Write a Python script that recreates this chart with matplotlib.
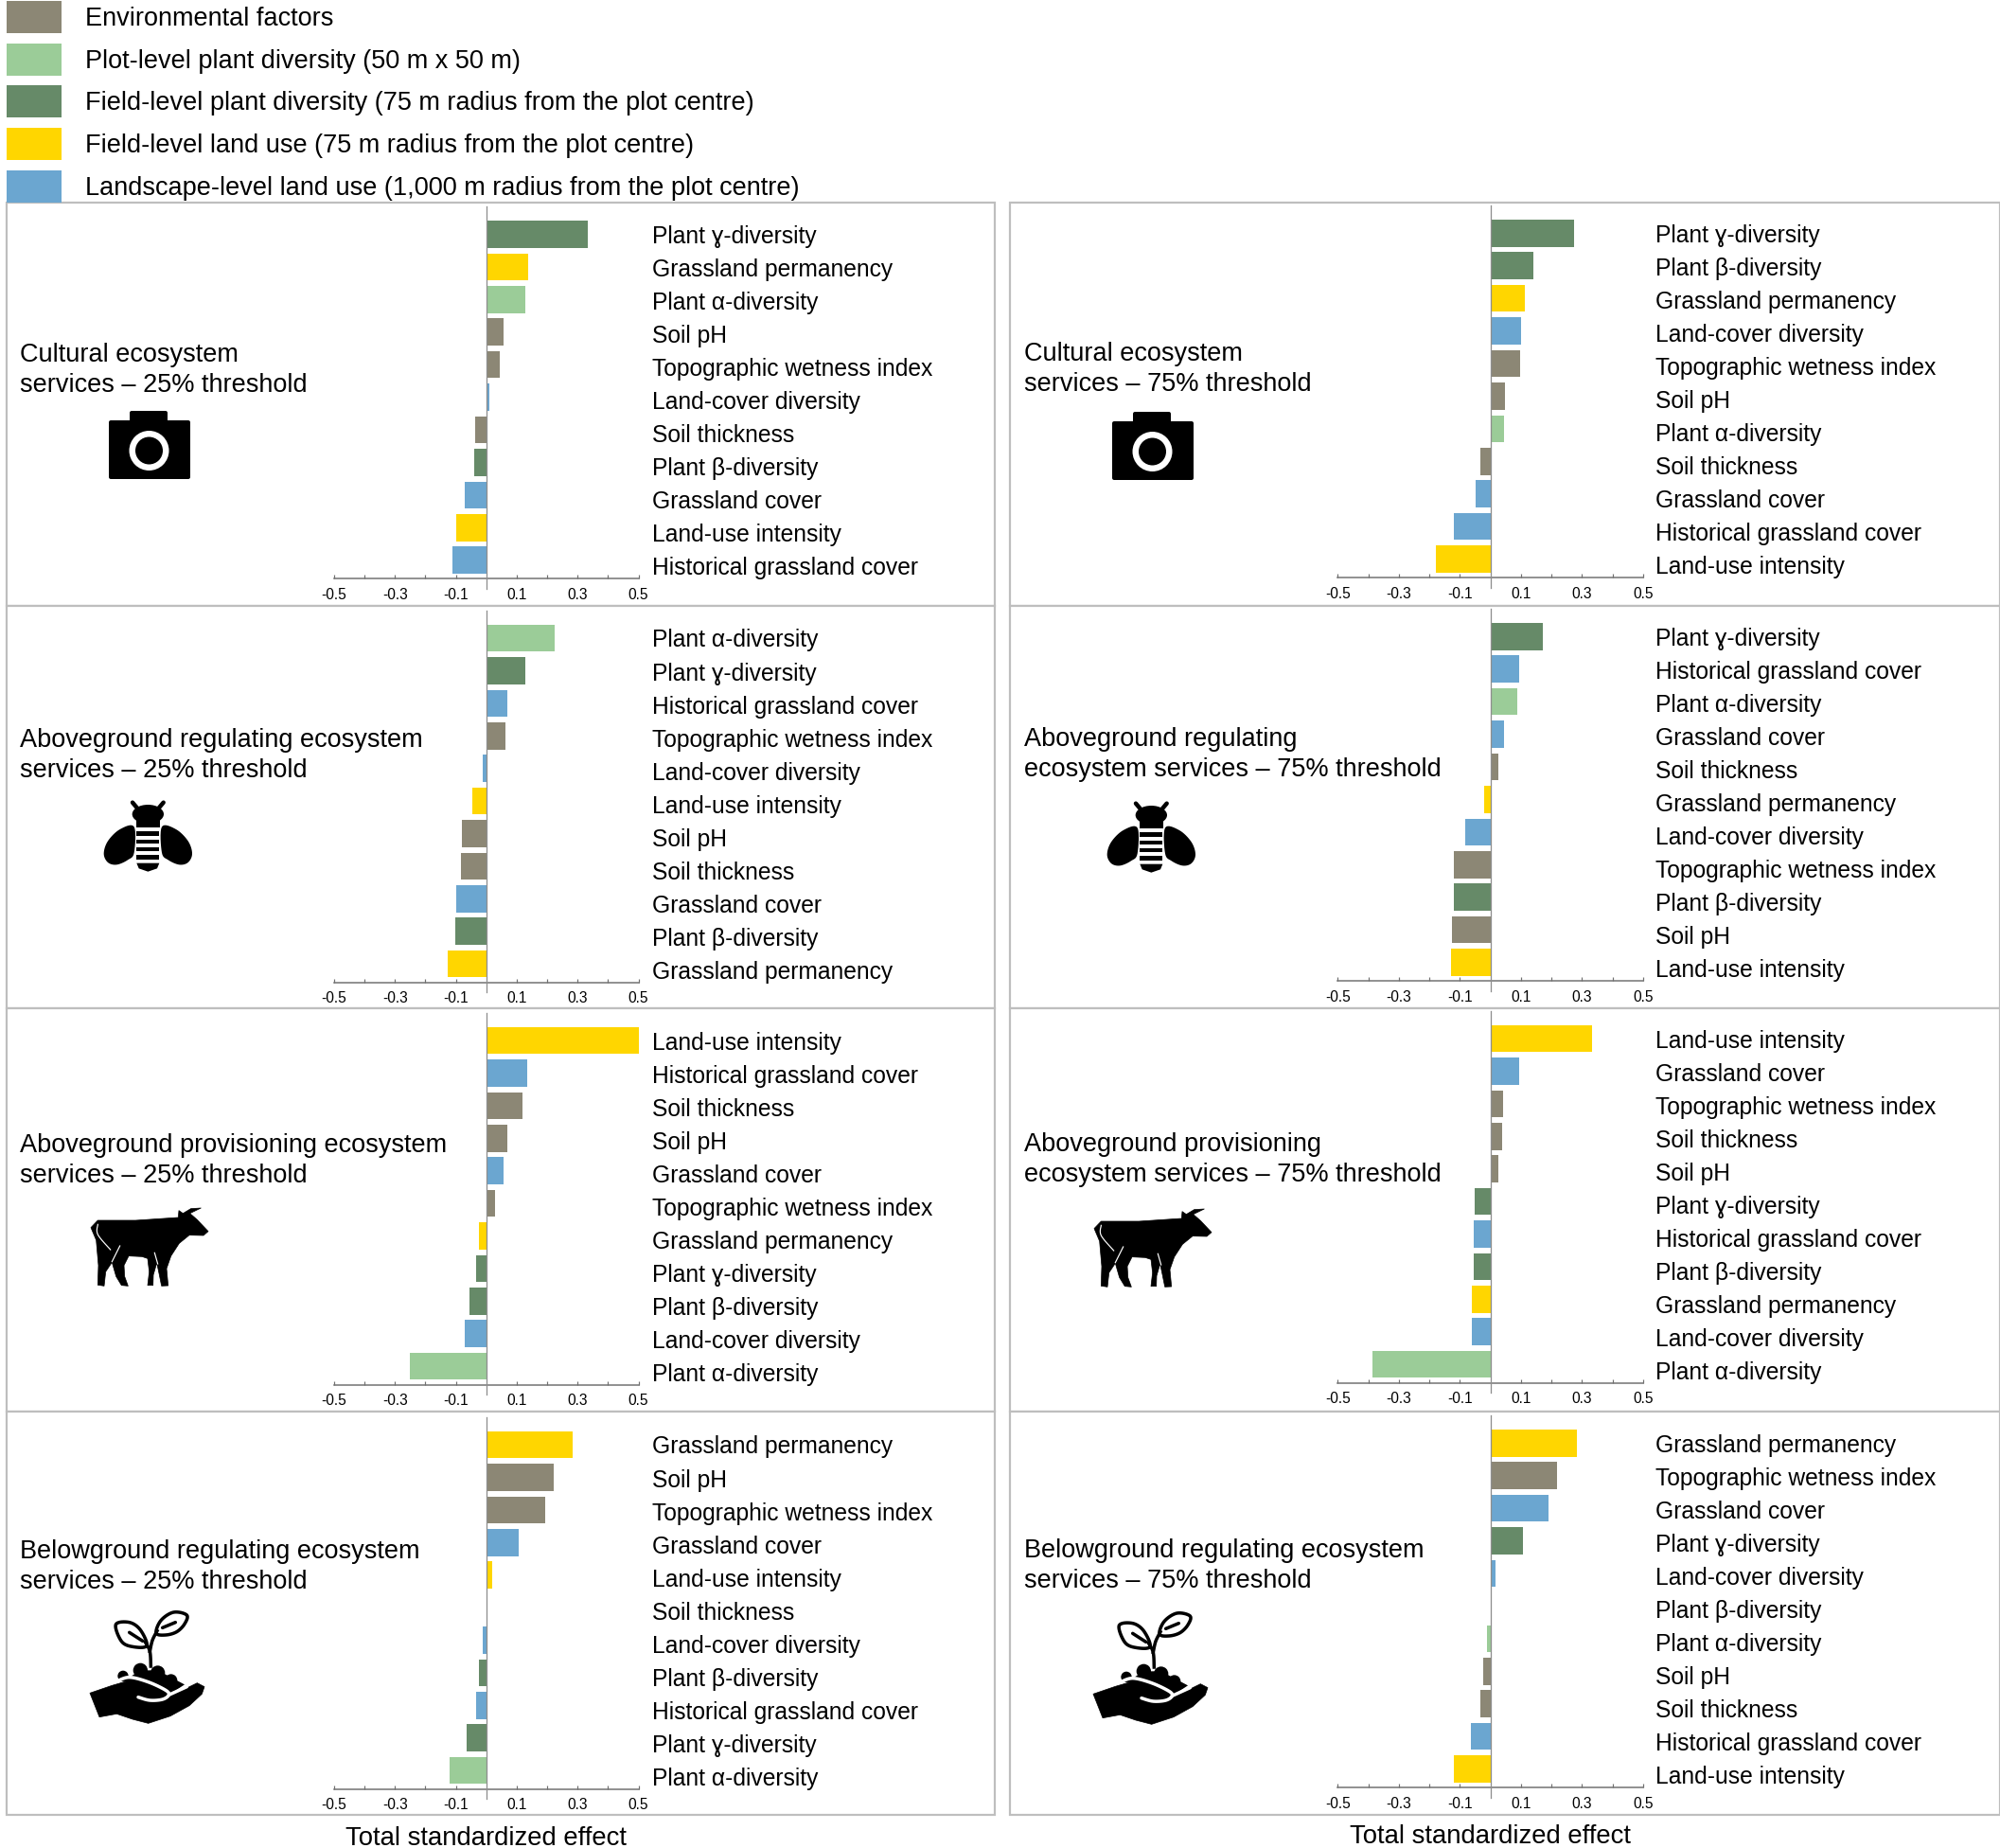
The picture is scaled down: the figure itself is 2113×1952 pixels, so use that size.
"""
Total standardized effects on ecosystem services, 25% and 75% thresholds.
Produces out.png
"""
import matplotlib
matplotlib.use("Agg")
import matplotlib.pyplot as plt
import numpy as np
from matplotlib.patches import Circle, Ellipse, Patch, Polygon, Rectangle

plt.rcParams["font.family"] = ["Liberation Sans", "DejaVu Sans"]

W, H = 2113, 1952

# ── Data ───────────────────────────────────────────────────────────────────────

GAMMA = "Plant ɣ-diversity"
BETA = "Plant β-diversity"
ALPHA = "Plant α-diversity"
PERM = "Grassland permanency"
LUI = "Land-use intensity"
GC = "Grassland cover"
HGC = "Historical grassland cover"
LCD = "Land-cover diversity"
PH = "Soil pH"
THICK = "Soil thickness"
TWI = "Topographic wetness index"

legend_labels = [
    "Environmental factors",
    "Plot-level plant diversity (50 m x 50 m)",
    "Field-level plant diversity (75 m radius from the plot centre)",
    "Field-level land use (75 m radius from the plot centre)",
    "Landscape-level land use (1,000 m radius from the plot centre)",
]
legend_colors = ["#8C8775", "#9BCC98", "#668A68", "#FFD600", "#6BA6D0"]

group_env = [PH, THICK, TWI]
group_plot = [ALPHA]
group_field_div = [GAMMA, BETA]
group_field_use = [PERM, LUI]
group_landscape = [GC, HGC, LCD]

cultural_25_labels = [GAMMA, PERM, ALPHA, PH, TWI, LCD, THICK, BETA, GC, LUI, HGC]
cultural_25_values = [0.333, 0.139, 0.127, 0.057, 0.044, 0.01, -0.036, -0.04, -0.072, -0.099, -0.112]

above_reg_25_labels = [ALPHA, GAMMA, HGC, TWI, LCD, LUI, PH, THICK, GC, BETA, PERM]
above_reg_25_values = [0.226, 0.129, 0.068, 0.063, -0.012, -0.046, -0.08, -0.084, -0.099, -0.101, -0.127]

above_prov_25_labels = [LUI, HGC, THICK, PH, GC, TWI, PERM, GAMMA, BETA, LCD, ALPHA]
above_prov_25_values = [0.5, 0.133, 0.118, 0.07, 0.057, 0.03, -0.025, -0.033, -0.056, -0.071, -0.252]

below_reg_25_labels = [PERM, PH, TWI, GC, LUI, THICK, LCD, BETA, HGC, GAMMA, ALPHA]
below_reg_25_values = [0.283, 0.222, 0.194, 0.108, 0.019, 0.003, -0.013, -0.023, -0.032, -0.063, -0.12]

cultural_75_labels = [GAMMA, BETA, PERM, LCD, TWI, PH, ALPHA, THICK, GC, HGC, LUI]
cultural_75_values = [0.274, 0.14, 0.114, 0.101, 0.098, 0.049, 0.043, -0.033, -0.05, -0.119, -0.179]

above_reg_75_labels = [GAMMA, HGC, ALPHA, GC, THICK, PERM, LCD, TWI, BETA, PH, LUI]
above_reg_75_values = [0.172, 0.095, 0.089, 0.045, 0.027, -0.021, -0.084, -0.119, -0.12, -0.126, -0.128]

above_prov_75_labels = [LUI, GC, TWI, THICK, PH, GAMMA, HGC, BETA, PERM, LCD, ALPHA]
above_prov_75_values = [0.333, 0.094, 0.04, 0.038, 0.025, -0.052, -0.054, -0.056, -0.06, -0.062, -0.385]

below_reg_75_labels = [PERM, TWI, GC, GAMMA, LCD, BETA, ALPHA, PH, THICK, HGC, LUI]
below_reg_75_values = [0.282, 0.219, 0.19, 0.106, 0.018, 0.003, -0.011, -0.024, -0.033, -0.064, -0.12]

major_ticks = [-0.5, -0.3, -0.1, 0.1, 0.3, 0.5]
major_tick_labels = ["-0.5", "-0.3", "-0.1", "0.1", "0.3", "0.5"]
minor_ticks = [-0.4, -0.2, 0.2, 0.4]

xlabel_text = "Total standardized effect"

# ── Layout (pixels of the full picture) ────────────────────────────────────────

PANEL_EDGES = [214, 640, 1065, 1491, 1917]
LEFT_X = (353, 674.5, 7, 1051)      # -0.5, 0.5, panel left, panel right
RIGHT_X = (1413.3, 1736, 1067, 2113)
LEFT_FIRST = [247.5, 674, 1099, 1526]
RIGHT_FIRST = [246.3, 672.3, 1097, 1524.3]
BAR_PITCH = 34.42
LABEL_PITCH = 35.04     # the names run slightly wider than the bars in the original
BAR_HEIGHT = 0.83

GREY_PANEL = "#BEBEBE"
GREY_AXIS = "#707070"
GREY_ZERO = "#8E8E8E"


def colour_of(label):
    groups = [group_env, group_plot, group_field_div, group_field_use, group_landscape]
    for group, colour in zip(groups, legend_colors):
        if label in group:
            return colour
    return "black"


def pt(px):
    return px * 72 / 100


def smooth(points, closed=True, n=8):
    """Catmull-Rom through the points, only used for the icon outlines."""
    p = np.asarray(points, dtype=float)
    if closed:
        p = np.vstack([p[-1], p, p[0], p[1]])
    else:
        p = np.vstack([p[0], p, p[-1]])
    out = []
    for i in range(1, len(p) - 2):
        for t in np.linspace(0, 1, n, endpoint=False):
            out.append(0.5 * (2 * p[i] + (p[i + 1] - p[i - 1]) * t
                              + (2 * p[i - 1] - 5 * p[i] + 4 * p[i + 1] - p[i + 2]) * t ** 2
                              + (3 * p[i] - p[i - 1] - 3 * p[i + 1] + p[i + 2]) * t ** 3))
    if not closed:
        out.append(p[-2])
    return np.array(out)


# ── Icons, outlines traced in 3x zoom coordinates ──────────────────────────────

def draw_camera(ov, dx, dy):
    ov.add_patch(Rectangle((117 + dx, 446 + dy), 81.5, 57.5, fc="black", ec="black", lw=pt(4), joinstyle="round"))
    ov.add_patch(Rectangle((139 + dx, 436 + dy), 36, 12, fc="black", ec="black", lw=pt(4), joinstyle="round"))
    ov.add_patch(Circle((157.5 + dx, 476 + dy), 21, fc="white", ec="none"))
    ov.add_patch(Circle((157.5 + dx, 476 + dy), 14.5, fc="black", ec="none"))


def draw_bee(ov, dx, dy):
    ox, oy = 90 + dx, 830 + dy
    z = lambda pts: np.array(pts, dtype=float) / 3 + [ox, oy]
    for sign in (-1, 1):
        wing = [(155, 130), (110, 138), (72, 175), (59, 215), (72, 243), (100, 250), (135, 235), (155, 212)]
        wing = [(199 + sign * (199 - x), y) for x, y in wing]
        ov.add_patch(Polygon(z(smooth(wing)), fc="black", ec="none"))
        ov.plot(*z([(199 + sign * 33, 72), (199 + sign * 49, 53)]).T, color="black", lw=pt(4.5),
                solid_capstyle="round")
    ov.add_patch(Polygon(z([(162, 100), (236, 100), (236, 131), (162, 131)]), fc="black", ec="none"))
    ov.add_patch(Ellipse(((199 / 3 + ox), (90 / 3 + oy)), 100 / 3, 60 / 3, fc="black", ec="none"))
    for top in (145, 170, 195, 220):
        ov.add_patch(Polygon(z([(163, top), (235, top), (235, top + 13), (163, top + 13)]), fc="black", ec="none"))
    tail = [(163, 245), (199, 245), (235, 245), (228, 262), (199, 272), (170, 262)]
    ov.add_patch(Polygon(z(tail), fc="black", ec="none"))


def draw_cow(ov, dx, dy):
    ox, oy = 60 + dx, 1230 + dy
    z = lambda pts: np.array(pts, dtype=float) / 3 + [ox, oy]
    body = [(130, 177), (250, 177), (385, 168), (387, 146), (400, 155), (425, 140), (457, 138),
            (422, 155), (445, 175), (480, 212), (465, 225), (420, 224), (388, 250), (362, 290),
            (348, 330), (353, 384), (332, 385), (324, 345), (317, 312), (306, 350), (305, 383),
            (288, 383), (293, 340), (288, 298), (270, 292), (228, 290),
            (213, 320), (215, 355), (226, 385), (205, 383), (188, 355), (175, 310), (155, 340),
            (150, 385), (130, 382), (132, 320), (125, 240), (108, 200)]
    ov.add_patch(Polygon(z(body), fc="black", ec="black", lw=0.5, joinstyle="round"))
    for line in ([(130, 190), (130, 222), (170, 270)], [(200, 258), (175, 308)], [(310, 280), (320, 315)]):
        ov.plot(*z(smooth(line, closed=False)).T, color="white", lw=pt(1.2))


def draw_hand(ov, dx, dy):
    ox, oy = 60 + dx, 1680 + dy
    z = lambda pts: np.array(pts, dtype=float) / 3 + [ox, oy]
    for cx, cy, r in [(265, 250, 23), (320, 258, 23), (362, 282, 20), (210, 268, 17)]:
        ov.add_patch(Circle((cx / 3 + ox, cy / 3 + oy), r / 3, fc="black", ec="none"))
    ov.add_patch(Polygon(z([(210, 285), (265, 250), (320, 250), (405, 295), (360, 325), (300, 300)]), fc="black", ec="none"))
    hand = [(105, 322), (175, 298), (230, 282), (290, 290), (345, 318), (400, 312), (445, 290),
            (468, 302), (460, 325), (420, 362), (360, 395), (290, 418), (240, 405), (190, 388),
            (135, 398), (120, 360)]
    ov.add_patch(Polygon(z(hand), fc="black", ec="black", lw=0.5, joinstyle="round"))
    ov.plot(*z(smooth([(190, 285), (230, 272), (290, 287), (345, 313), (355, 328), (335, 342), (295, 345), (258, 335)],
                      closed=False)).T, color="white", lw=pt(3.5), solid_capstyle="round")
    ov.plot(*z([(355, 328), (412, 302)]).T, color="white", lw=pt(3.5), solid_capstyle="round")
    ov.plot(*z(smooth([(298, 237), (295, 190), (280, 160)], closed=False)).T, color="black", lw=pt(3.5))
    ov.plot(*z(smooth([(295, 190), (303, 155), (318, 125)], closed=False)).T, color="black", lw=pt(3.5))
    leaf_l = [(187, 105), (230, 98), (265, 122), (285, 172), (240, 175), (205, 158)]
    leaf_r = [(315, 132), (330, 92), (370, 66), (412, 75), (405, 103), (380, 128), (345, 138)]
    for leaf in (leaf_l, leaf_r):
        ov.add_patch(Polygon(z(smooth(leaf)), fc="white", ec="black", lw=pt(3.5)))
    ov.plot(*z([(230, 130), (272, 157)]).T, color="black", lw=pt(3.5), solid_capstyle="round")
    ov.plot(*z([(335, 115), (376, 98)]).T, color="black", lw=pt(3.5), solid_capstyle="round")


# ── Panels ─────────────────────────────────────────────────────────────────────

def panel(fig, ov, col_x, row, first, labels, values, title, title_y, title_x, label_pad, xlabel=False):
    x0, x1, px0, px1 = col_x
    ov.add_patch(Rectangle((px0, PANEL_EDGES[row]), px1 - px0, PANEL_EDGES[row + 1] - PANEL_EDGES[row],
                           fc="white", ec=GREY_PANEL, lw=pt(2.2), zorder=1))
    ov.text(title_x, title_y, title, fontsize=19.5, ha="left", va="center", linespacing=1.33, zorder=3)

    axis_y = first + 10 * BAR_PITCH + 19.5
    top_y = first - 29.5
    ax = fig.add_axes([x0 / W, 1 - axis_y / H, (x1 - x0) / W, (axis_y - top_y) / H])
    ax.patch.set_alpha(0)
    y = np.arange(len(labels))
    ax.barh(y, values, height=BAR_HEIGHT, color=[colour_of(l) for l in labels], zorder=2)
    ax.set_xlim(-0.5, 0.5)
    ax.set_ylim((axis_y - first) / BAR_PITCH, (top_y - first) / BAR_PITCH)
    ax.set_yticks([])
    ax.plot([0, 0], [-0.027, 1], transform=ax.get_xaxis_transform(), color=GREY_ZERO, lw=pt(1.3),
            clip_on=False, zorder=3)

    for side in ("top", "left", "right"):
        ax.spines[side].set_visible(False)
    ax.spines["bottom"].set_color(GREY_AXIS)
    ax.spines["bottom"].set_linewidth(pt(1.5))

    ax.set_xticks(major_ticks)
    ax.set_xticklabels(major_tick_labels, fontsize=11.2)
    ax.set_xticks(minor_ticks, minor=True)
    ax.tick_params(axis="x", which="both", direction="in", length=pt(4), width=pt(1.2), color=GREY_AXIS, pad=7)

    # names sit on their own scale, their pitch differs from the bars
    names = ax.twinx()
    names.set_ylim((axis_y - first) / LABEL_PITCH, (top_y - first) / LABEL_PITCH)
    for spine in names.spines.values():
        spine.set_visible(False)
    names.set_yticks(y)
    names.set_yticklabels(labels, fontsize=17.7)
    names.tick_params(axis="y", length=0, pad=label_pad)

    if xlabel:
        ax.set_xlabel(xlabel_text, fontsize=19.8, labelpad=10.5)
    return ax


def main():
    fig = plt.figure(figsize=(W / 100, H / 100), dpi=100, facecolor="white")

    ov = fig.add_axes([0, 0, 1, 1], zorder=0)
    ov.set_xlim(0, W)
    ov.set_ylim(H, 0)
    ov.axis("off")

    handles = [Patch(facecolor=c, edgecolor="none", label=t) for c, t in zip(legend_colors, legend_labels)]
    fig.legend(handles=handles, loc="upper left", bbox_to_anchor=(7 / W, 1 - 1 / H), frameon=False,
               fontsize=19.5, borderpad=0, borderaxespad=0, handlelength=2.14, handleheight=1.555,
               handletextpad=0.92, labelspacing=0.395)

    left_panels = [
        (cultural_25_labels, cultural_25_values, "Cultural ecosystem\nservices – 25% threshold", 391),
        (above_reg_25_labels, above_reg_25_values, "Aboveground regulating ecosystem\nservices – 25% threshold", 798),
        (above_prov_25_labels, above_prov_25_values, "Aboveground provisioning ecosystem\nservices – 25% threshold", 1226),
        (below_reg_25_labels, below_reg_25_values, "Belowground regulating ecosystem\nservices – 25% threshold", 1655),
    ]
    right_panels = [
        (cultural_75_labels, cultural_75_values, "Cultural ecosystem\nservices – 75% threshold", 390),
        (above_reg_75_labels, above_reg_75_values, "Aboveground regulating\necosystem services – 75% threshold", 797),
        (above_prov_75_labels, above_prov_75_values, "Aboveground provisioning\necosystem services – 75% threshold", 1225),
        (below_reg_75_labels, below_reg_75_values, "Belowground regulating ecosystem\nservices – 75% threshold", 1654),
    ]
    for row, (labels, values, title, ty) in enumerate(left_panels):
        panel(fig, ov, LEFT_X, row, LEFT_FIRST[row], labels, values, title, ty, 21, 10.5, xlabel=row == 3)
    for row, (labels, values, title, ty) in enumerate(right_panels):
        panel(fig, ov, RIGHT_X, row, RIGHT_FIRST[row], labels, values, title, ty, 1082, 9.2, xlabel=row == 3)

    for dx, dy in ((0, 0), (1060, 1)):
        draw_camera(ov, dx, dy)
        draw_bee(ov, dx, dy)
        draw_cow(ov, dx, dy)
        draw_hand(ov, dx, dy + 1)

    fig.savefig("out.png", dpi=100)
    plt.close(fig)


if __name__ == "__main__":
    main()
